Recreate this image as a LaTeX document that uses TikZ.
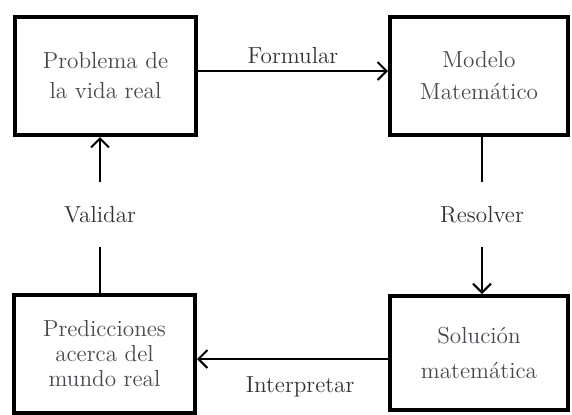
\documentclass[tikz,border=0pt]{standalone}
\usepackage{tikz}
\usepackage{xcolor}
\definecolor{gristexte}{RGB}{72,72,80}
\definecolor{grislabel}{RGB}{50,50,56}
\usetikzlibrary{arrows.meta}
\tikzstyle{boite} = [draw, line width = 2pt, minimum width = 90.5pt, minimum height = 59pt, align = center, text = gristexte, inner sep = 0pt]
\tikzstyle{fleche} = [-{Straight Barb[length = 4.5pt, width = 9pt]}, line width = 1pt]
\tikzstyle{ligne} = [line width = 1pt]
\tikzstyle{etiquette} = [text = grislabel, minimum height = 32pt, inner sep = 0pt]

\begin{document}
\begin{tikzpicture}[x = 0.5pt, y = -0.5pt, font = \fontsize{11.6}{15}\selectfont]
	% Cadre
	\useasboundingbox (0, 0) rectangle (572, 414);
	% Boites
	\node[boite] (probleme) at (105.5, 76) {Problema de\\la vida real};
	\node[boite, minimum width = 89pt] (modele) at (479, 76) {Modelo\\[1pt]Matemático};
	\node[boite, minimum width = 89pt, minimum height = 57pt] (solution) at (479, 353) {Solución\\[2.5pt]matemática};
	\node[boite, font = \fontsize{11.6}{12.5}\selectfont] (predictions) at (104.5, 354) {Predicciones\\acerca del\\mundo real};
	% Étiquettes verticales
	\node[etiquette] (resoudre) at (482, 214.5) {Resolver};
	\node[etiquette] (valider) at (100, 214.5) {Validar};
	% Flèches
	\draw[fleche] ([yshift = 2.5pt]probleme.east) -- ([yshift = 2.5pt]modele.west) node[midway, above, text = grislabel] {Formular};
	\draw[ligne] (modele.south -| resoudre) -- (resoudre);
	\draw[fleche] (resoudre) -- (solution.north -| resoudre);
	\draw[fleche] ([yshift = -3pt]solution.west) -- ([yshift = -3pt]solution.west -| predictions.east) node[pos = 0.46, below = 5pt, text = grislabel] {Interpretar};
	\draw[ligne] (predictions.north -| valider) -- (valider);
	\draw[fleche] (valider) -- (probleme.south -| valider);
\end{tikzpicture}
\end{document}
